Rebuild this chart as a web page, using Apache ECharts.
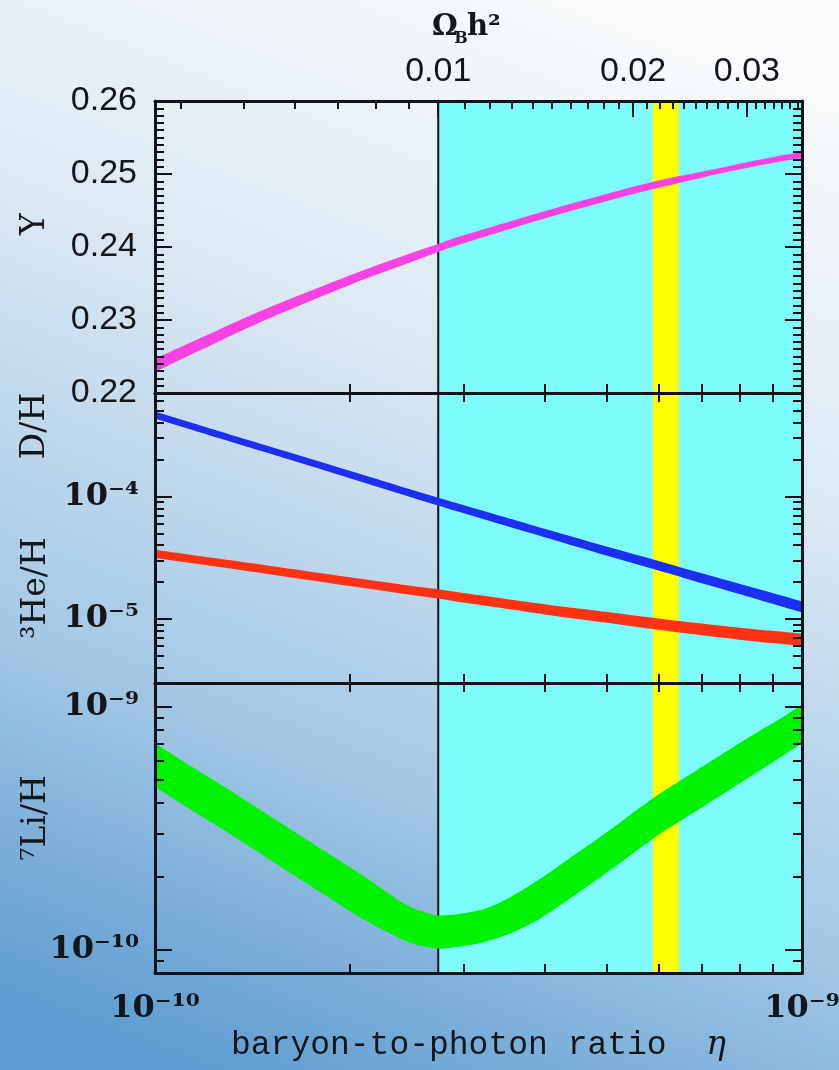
<!DOCTYPE html>
<html><head><meta charset="utf-8">
<script src="https://cdn.jsdelivr.net/npm/echarts@6/dist/echarts.min.js"></script>
<style>html,body{margin:0;padding:0;background:#fff;}#c{width:839px;height:1070px;}</style>
</head><body><div id="c"></div>
<script>
// ---------- data ----------
const etaGrid = [1.0e-10, 1.25e-10, 1.5e-10, 2.0e-10, 2.5e-10, 2.74e-10, 3.0e-10, 4.0e-10, 5.0e-10, 6.0e-10, 7.0e-10, 8.0e-10, 9.0e-10, 1.0e-9];
const heliumLow  = [0.2229, 0.2270, 0.2302, 0.2348, 0.2380, 0.2393, 0.2405, 0.2439, 0.2463, 0.2481, 0.2495, 0.2506, 0.2515, 0.2522];
const heliumHigh = [0.2247, 0.2286, 0.2317, 0.2361, 0.2392, 0.2404, 0.2416, 0.2449, 0.2473, 0.2491, 0.2503, 0.2514, 0.2523, 0.2530];
const deutLow  = [4.34e-4, 3.02e-4, 2.25e-4, 1.41e-4, 9.78e-5, 8.44e-5, 7.29e-5, 4.65e-5, 3.28e-5, 2.49e-5, 1.96e-5, 1.60e-5, 1.33e-5, 1.13e-5];
const deutHigh = [4.94e-4, 3.44e-4, 2.57e-4, 1.62e-4, 1.128e-4, 9.77e-5, 8.49e-5, 5.46e-5, 3.89e-5, 2.98e-5, 2.36e-5, 1.94e-5, 1.63e-5, 1.39e-5];
const he3Low  = [3.15e-5, 2.67e-5, 2.32e-5, 1.86e-5, 1.57e-5, 1.47e-5, 1.36e-5, 1.09e-5, 9.3e-6, 8.15e-6, 7.36e-6, 6.78e-6, 6.35e-6, 6.01e-6];
const he3High = [3.67e-5, 3.11e-5, 2.72e-5, 2.19e-5, 1.86e-5, 1.75e-5, 1.63e-5, 1.32e-5, 1.14e-5, 1.01e-5, 9.18e-6, 8.49e-6, 8.0e-6, 7.56e-6];
const etaLi = [1.00e-10, 1.14e-10, 1.33e-10, 1.54e-10, 1.79e-10, 2.08e-10, 2.41e-10, 2.60e-10, 2.80e-10, 3.26e-10, 3.78e-10, 4.39e-10, 5.11e-10, 5.93e-10, 6.89e-10, 8.00e-10, 9.29e-10, 1.00e-9];
const lithiumLow  = [4.67e-10, 3.74e-10, 2.90e-10, 2.25e-10, 1.74e-10, 1.35e-10, 1.10e-10, 1.03e-10, 1.01e-10, 1.08e-10, 1.26e-10, 1.63e-10, 2.17e-10, 2.90e-10, 3.74e-10, 4.82e-10, 6.22e-10, 7.06e-10];
const lithiumHigh = [7.06e-10, 5.65e-10, 4.38e-10, 3.40e-10, 2.63e-10, 2.04e-10, 1.56e-10, 1.43e-10, 1.38e-10, 1.48e-10, 1.82e-10, 2.39e-10, 3.18e-10, 4.25e-10, 5.48e-10, 7.06e-10, 8.97e-10, 1.02e-9];

const etaRange = [1e-10, 1e-9];
const omegaPerEta = 2.74e-8;              // eta = 2.74e-8 * Omega_B h^2
const cyanStart = 2.74e-10;               // Omega_B h^2 = 0.01
const yellowBand = [5.88e-10, 6.45e-10];

const etaTickValues = [2e-10, 3e-10, 4e-10, 5e-10, 6e-10, 7e-10, 8e-10, 9e-10];
const etaLabelValues = [1e-10, 1e-9];
const etaLabelText = ['10⁻¹⁰', '10⁻⁹'];
const omegaLabelValues = [0.01, 0.02, 0.03];
const omegaMinorValues = [0.004, 0.005, 0.006, 0.007, 0.008, 0.009, 0.011, 0.012, 0.013, 0.014, 0.015, 0.016, 0.017, 0.018, 0.019,
  0.021, 0.022, 0.023, 0.024, 0.025, 0.026, 0.027, 0.028, 0.029, 0.031, 0.032, 0.033, 0.034, 0.035, 0.036];
const yRange = [0.22, 0.26];
const midRange = [3e-6, 7e-4];
const midLabelValues = [1e-5, 1e-4];
const midLabelText = ['10⁻⁵', '10⁻⁴'];
const midMinorValues = [4e-6, 5e-6, 6e-6, 7e-6, 8e-6, 9e-6, 2e-5, 3e-5, 4e-5, 5e-5, 6e-5, 7e-5, 8e-5, 9e-5, 2e-4, 3e-4, 4e-4, 5e-4, 6e-4];
const liRange = [8e-11, 1.25e-9];
const liLabelValues = [1e-10, 1e-9];
const liLabelText = ['10⁻¹⁰', '10⁻⁹'];
const liMinorValues = [9e-11, 2e-10, 3e-10, 4e-10, 5e-10, 6e-10, 7e-10, 8e-10, 9e-10];

// ---------- helpers ----------
const AX = '#111318';
const TXT = '#15161a';
const SERIF = 'DejaVu Serif';
function lookup(vals, texts) {
  return function (v) {
    for (let i = 0; i < vals.length; i++) if (Math.abs(Math.log10(v / vals[i])) < 0.01) return texts[i];
    return '';
  };
}
const G = [
  {left: 155, top: 101, width: 647, height: 292},
  {left: 155, top: 393, width: 647, height: 290},
  {left: 155, top: 683, width: 647, height: 290}
];
function etaAxis(grid, pos, extra) {
  return Object.assign({
    type: 'log', gridIndex: grid, position: pos, min: etaRange[0], max: etaRange[1], z: 10,
    axisLine: {show: true, onZero: false, lineStyle: {color: AX, width: 3}},
    axisTick: {show: true, inside: true, length: 9, customValues: etaTickValues, lineStyle: {color: AX, width: 2}},
    axisLabel: {show: false}, splitLine: {show: false}
  }, extra || {});
}
function logY(grid, pos, range, ticks, len, showLine, label) {
  return {
    type: 'log', gridIndex: grid, position: pos, min: range[0], max: range[1], z: 10,
    axisLine: {show: showLine, onZero: false, lineStyle: {color: AX, width: 3}},
    axisTick: {show: true, inside: true, length: len, customValues: ticks, lineStyle: {color: AX, width: 2}},
    axisLabel: label || {show: false}, splitLine: {show: false}
  };
}
const serifLabel = (vals, texts, margin) => ({
  show: true, customValues: vals, margin: margin, formatter: lookup(vals, texts),
  fontFamily: SERIF, fontWeight: 'bold', fontSize: 32, color: TXT
});

// smooth (Catmull-Rom) edge through screen points, as cubic segments
function curveSegs(p) {
  let d = '';
  const n = p.length;
  for (let i = 0; i < n - 1; i++) {
    const p0 = p[Math.max(i - 1, 0)], p1 = p[i], p2 = p[i + 1], p3 = p[Math.min(i + 2, n - 1)];
    const c1 = [p1[0] + (p2[0] - p0[0]) / 6, p1[1] + (p2[1] - p0[1]) / 6];
    const c2 = [p2[0] - (p3[0] - p1[0]) / 6, p2[1] - (p3[1] - p1[1]) / 6];
    d += ' C' + c1[0] + ' ' + c1[1] + ' ' + c2[0] + ' ' + c2[1] + ' ' + p2[0] + ' ' + p2[1];
  }
  return d;
}
function bandItem(color) {
  return function (params, api) {
    if (params.dataIndexInside !== 0) return null;
    const n = params.dataInsideLength;
    const top = [], bot = [];
    for (let i = 0; i < n; i++) {
      const x = api.value(0, i);
      top.push(api.coord([x, api.value(2, i)]));
      bot.push(api.coord([x, api.value(1, i)]));
    }
    bot.reverse();
    const d = 'M' + top[0][0] + ' ' + top[0][1] + curveSegs(top) +
      ' L' + bot[0][0] + ' ' + bot[0][1] + curveSegs(bot) + ' Z';
    return {type: 'path', shape: {pathData: d, layout: 'cover'}, style: {fill: color}};
  };
}
function band(xi, yi, xs, lo, hi, color) {
  return {type: 'custom', xAxisIndex: xi, yAxisIndex: yi, z: 3, clip: true, silent: true,
    renderItem: bandItem(color), data: xs.map((x, i) => [x, lo[i], hi[i]])};
}
function marks(xi, yi, range) {
  return [
    {type: 'line', xAxisIndex: xi, yAxisIndex: yi, data: [], silent: true,
      markArea: {silent: true, z: 1, itemStyle: {color: '#7efcfd'}, data: [[{xAxis: cyanStart}, {xAxis: etaRange[1]}]]}},
    {type: 'line', xAxisIndex: xi, yAxisIndex: yi, data: [], silent: true,
      markArea: {silent: true, z: 1.5, itemStyle: {color: '#ffff00'}, data: [[{xAxis: yellowBand[0]}, {xAxis: yellowBand[1]}]]}},
    {type: 'line', xAxisIndex: xi, yAxisIndex: yi, z: 2, silent: true, symbol: 'none',
      lineStyle: {color: '#10131c', width: 2}, data: [[cyanStart, range[0]], [cyanStart, range[1]]]}
  ];
}

const xAxes = [
  etaAxis(0, 'bottom'),                                               // 0
  {type: 'log', gridIndex: 0, position: 'top', z: 10,                  // 1 Omega major
    min: etaRange[0] / omegaPerEta, max: etaRange[1] / omegaPerEta,
    axisLine: {show: true, onZero: false, lineStyle: {color: AX, width: 3}},
    axisTick: {show: true, inside: true, length: 16, customValues: omegaLabelValues, lineStyle: {color: AX, width: 2}},
    axisLabel: {show: true, customValues: omegaLabelValues, margin: 12, formatter: v => v.toFixed(2),
      fontFamily: 'Liberation Sans', fontSize: 34, color: TXT},
    splitLine: {show: false}},
  {type: 'log', gridIndex: 0, position: 'top', z: 10,                  // 2 Omega minor
    min: etaRange[0] / omegaPerEta, max: etaRange[1] / omegaPerEta,
    axisLine: {show: false, onZero: false},
    axisTick: {show: true, inside: true, length: 8, customValues: omegaMinorValues, lineStyle: {color: AX, width: 2}},
    axisLabel: {show: false}, splitLine: {show: false}},
  etaAxis(1, 'bottom'),                                               // 3
  etaAxis(1, 'top'),                                                  // 4
  etaAxis(2, 'bottom', {                                              // 5
    axisLabel: serifLabel(etaLabelValues, etaLabelText, 20),
    name: 'baryon-to-photon ratio  {e|η}', nameLocation: 'middle', nameGap: 56,
    nameTextStyle: {fontFamily: 'Liberation Mono', fontSize: 33, color: TXT,
      rich: {e: {fontFamily: SERIF, fontStyle: 'italic', fontSize: 33, color: TXT}}}
  }),
  etaAxis(2, 'top')                                                   // 6
];

const linY = (pos, label) => ({
  type: 'value', gridIndex: 0, position: pos, min: yRange[0], max: yRange[1], interval: 0.01, z: 10,
  axisLine: {show: true, onZero: false, lineStyle: {color: AX, width: 3}},
  axisTick: {show: true, inside: true, length: 17, lineStyle: {color: AX, width: 2}},
  minorTick: {show: true, splitNumber: 10, length: 9, lineStyle: {color: AX, width: 2}},
  axisLabel: label ? {show: true, margin: 18, formatter: v => v.toFixed(2), fontFamily: 'Liberation Sans', fontSize: 34, color: TXT} : {show: false},
  splitLine: {show: false}, minorSplitLine: {show: false}
});

const yAxes = [
  linY('left', true),                                                                  // 0
  linY('right', false),                                                                // 1
  logY(1, 'left', midRange, midLabelValues, 17, true, serifLabel(midLabelValues, midLabelText, 16)), // 2
  logY(1, 'left', midRange, midMinorValues, 9, false),                                 // 3
  logY(1, 'right', midRange, midLabelValues, 17, true),                                // 4
  logY(1, 'right', midRange, midMinorValues, 9, false),                                // 5
  logY(2, 'left', liRange, liLabelValues, 17, true, serifLabel(liLabelValues, liLabelText, 16)), // 6
  logY(2, 'left', liRange, liMinorValues, 9, false),                                   // 7
  logY(2, 'right', liRange, liLabelValues, 17, true),                                  // 8
  logY(2, 'right', liRange, liMinorValues, 9, false)                                   // 9
];

const series = [].concat(
  marks(0, 0, yRange), marks(3, 2, midRange), marks(5, 6, liRange),
  [
    band(0, 0, etaGrid, heliumLow, heliumHigh, '#f941e4'),
    band(3, 2, etaGrid, deutLow, deutHigh, '#1c2ff2'),
    band(3, 2, etaGrid, he3Low, he3High, '#ff3313'),
    band(5, 6, etaLi, lithiumLow, lithiumHigh, '#00f200')
  ]
);

const nameStyle = (text, x, y) => ({type: 'text', x: x, y: y, rotation: Math.PI / 2, z: 20, silent: true,
  style: {text: text, fontFamily: SERIF, fontSize: 33, fill: TXT, align: 'center', verticalAlign: 'middle'}});

const chart = echarts.init(document.getElementById('c'), null, {renderer: 'canvas'});
chart.setOption({
  animation: false,
  grid: G.map(g => Object.assign({show: false, containLabel: false, outerBoundsMode: 'none'}, g)),
  xAxis: xAxes,
  yAxis: yAxes,
  series: series,
  graphic: [
    {type: 'rect', z: -100, silent: true, shape: {x: 0, y: 0, width: 839, height: 1070},
      style: {fill: new echarts.graphic.LinearGradient(0.75, 0, 0.25, 1, [
        {offset: 0, color: '#fbfcfd'}, {offset: 0.35, color: '#dbe8f2'},
        {offset: 0.7, color: '#a5c9e6'}, {offset: 1, color: '#5e9dd1'}])}},
    nameStyle('Y', 35, 224),
    nameStyle('D/H', 35, 426),
    nameStyle('³He/H', 36, 588),
    nameStyle('⁷Li/H', 36, 818),
    {type: 'text', x: 445, y: 27, z: 20, silent: true,
      style: {text: 'Ω', fontFamily: SERIF, fontWeight: 'bold', fontSize: 29, fill: TXT, align: 'center', verticalAlign: 'middle'}},
    {type: 'text', x: 461, y: 39, z: 20, silent: true,
      style: {text: 'B', fontFamily: SERIF, fontWeight: 'bold', fontSize: 16, fill: TXT, align: 'center', verticalAlign: 'middle'}},
    {type: 'text', x: 467, y: 27, z: 20, silent: true,
      style: {text: 'h²', fontFamily: SERIF, fontWeight: 'bold', fontSize: 29, fill: TXT, align: 'left', verticalAlign: 'middle'}}
  ]
});
</script>
</body></html>
